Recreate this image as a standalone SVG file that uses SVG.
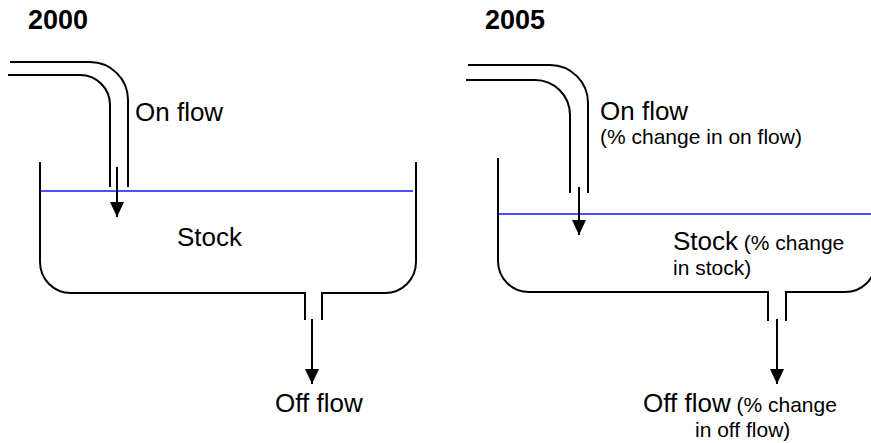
<svg xmlns="http://www.w3.org/2000/svg" width="871" height="443" viewBox="0 0 871 443">
<defs>
<marker id="ah" viewBox="0 0 15 14" refX="15" refY="7" markerWidth="15" markerHeight="14" markerUnits="userSpaceOnUse" orient="auto">
<path d="M0,0 L15,7 L0,14 Z" fill="#000"/>
</marker>
<style>
.ln{fill:none;stroke:#000;stroke-width:2}
.wl{fill:none;stroke:#4f4fff;stroke-width:2}
.arr{fill:none;stroke:#000;stroke-width:2}
.t{font-family:"Liberation Sans",Arial,sans-serif;fill:#000}
.big{font-size:26px}
.sm{font-size:21px}
.yr{font-size:27px;font-weight:bold}
</style>
</defs>
<rect width="871" height="443" fill="#fff"/>
<g id="left">
<g id="year2000"><text class="t yr" x="28" y="29">2000</text></g>
<g id="pipe-in-left">
<path class="ln" d="M10,62 H90 A38,38 0 0 1 128,100 V187"/>
<path class="ln" d="M8,75 H80 A30,30 0 0 1 110,105 V187"/>
</g>
<g id="tank-left">
<path class="ln" d="M40,162 V262 A31,31 0 0 0 71,293 H305 V320"/>
<path class="ln" d="M322,320 V293 H385 A31,31 0 0 0 416,262 V162"/>
<line class="wl" x1="41" y1="191" x2="413" y2="191"/>
</g>
<g id="labels-left">
<text class="t big" x="135" y="121">On flow</text>
<text class="t big" x="177" y="246">Stock</text>
<text class="t big" x="275" y="412">Off flow</text>
</g>
</g>
<g id="right">
<g id="year2005"><text class="t yr" x="485" y="29">2005</text></g>
<g id="pipe-in-right">
<path class="ln" d="M468,65 H550 A38,38 0 0 1 588,103 V193"/>
<path class="ln" d="M466,80 H535 A35,35 0 0 1 570,115 V193"/>
</g>
<g id="tank-right">
<path class="ln" d="M498,158 V261 A31,31 0 0 0 529,292 H768 V321"/>
<path class="ln" d="M786,321 V292 H845 A31,31 0 0 0 876,261 V158"/>
<line class="wl" x1="499" y1="214" x2="871" y2="214"/>
</g>
<g id="labels-right">
<text class="t big" x="600" y="120">On flow</text>
<text class="t sm" x="600" y="144">(% change in on flow)</text>
<text class="t" x="673" y="250"><tspan class="big">Stock</tspan><tspan class="sm"> (% change</tspan></text>
<text class="t sm" x="673" y="275">in stock)</text>
<text class="t" x="643" y="412"><tspan class="big">Off flow</tspan><tspan class="sm"> (% change</tspan></text>
<text class="t sm" x="695" y="437">in off flow)</text>
</g>
</g>
<g id="connectors">
<line class="arr" x1="117" y1="167" x2="117" y2="217" marker-end="url(#ah)"/>
<line class="arr" x1="312" y1="319" x2="312" y2="384" marker-end="url(#ah)"/>
<line class="arr" x1="579" y1="187" x2="579" y2="235" marker-end="url(#ah)"/>
<line class="arr" x1="777" y1="319" x2="777" y2="384" marker-end="url(#ah)"/>
</g>
</svg>
